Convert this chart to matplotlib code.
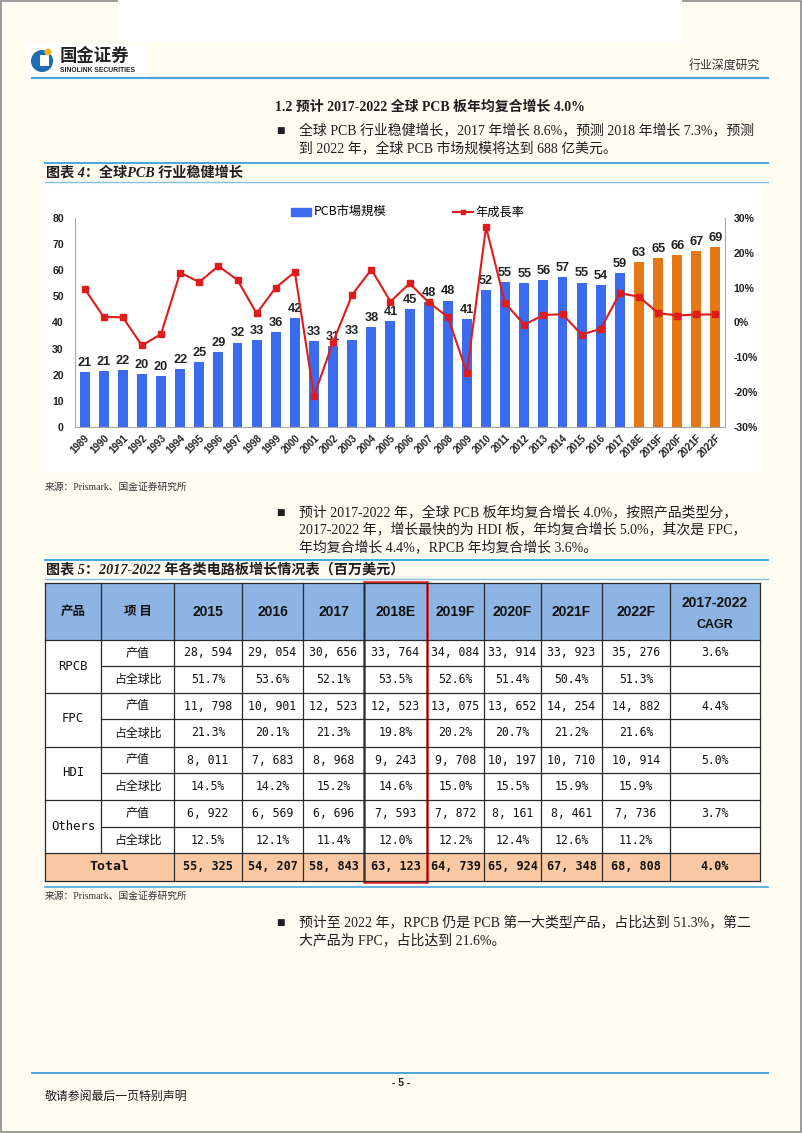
import matplotlib.pyplot as plt
import matplotlib.patches as mpatches
from matplotlib.lines import Line2D
from matplotlib.ticker import MultipleLocator, FuncFormatter

W, H = 802, 1133

# --- 图表4：全球PCB市场规模（十亿美元）与年增长率 ---
years = ['1989', '1990', '1991', '1992', '1993', '1994', '1995', '1996', '1997', '1998',
         '1999', '2000', '2001', '2002', '2003', '2004', '2005', '2006', '2007', '2008',
         '2009', '2010', '2011', '2012', '2013', '2014', '2015', '2016', '2017',
         '2018E', '2019F', '2020F', '2021F', '2022F']
market = [21.0, 21.4, 21.7, 20.4, 19.6, 22.2, 24.8, 28.8, 32.3, 33.2,
          36.2, 41.6, 32.8, 30.9, 33.2, 38.4, 40.7, 45.2, 47.7, 48.4,
          41.2, 52.4, 55.4, 55.1, 56.3, 57.4, 55.3, 54.2, 58.8,
          63.1, 64.7, 65.9, 67.3, 68.8]
growth = [9.7, 1.6, 1.5, -6.6, -3.3, 14.3, 11.6, 16.2, 12.2, 2.6,
          10.0, 14.5, -21.1, -5.6, 8.0, 15.2, 6.0, 11.2, 5.8, 1.6,
          -14.4, 27.4, 5.5, -0.6, 2.1, 2.4, -3.5, -1.8, 8.4,
          7.4, 2.7, 2.0, 2.3, 2.3]

# --- 图表5：各类电路板产值（百万美元）与占比 ---
tbl_years = ['2015', '2016', '2017', '2018E', '2019F', '2020F', '2021F', '2022F']
products = ['RPCB', 'FPC', 'HDI', 'Others']
rpcb_val = [28594, 29054, 30656, 33764, 34084, 33914, 33923, 35276]
rpcb_share = [51.7, 53.6, 52.1, 53.5, 52.6, 51.4, 50.4, 51.3]
fpc_val = [11798, 10901, 12523, 12523, 13075, 13652, 14254, 14882]
fpc_share = [21.3, 20.1, 21.3, 19.8, 20.2, 20.7, 21.2, 21.6]
hdi_val = [8011, 7683, 8968, 9243, 9708, 10197, 10710, 10914]
hdi_share = [14.5, 14.2, 15.2, 14.6, 15.0, 15.5, 15.9, 15.9]
oth_val = [6922, 6569, 6696, 7593, 7872, 8161, 8461, 7736]
oth_share = [12.5, 12.1, 11.4, 12.0, 12.2, 12.4, 12.6, 11.2]
total_val = [55325, 54207, 58843, 63123, 64739, 65924, 67348, 68808]
cagr = [3.6, 4.4, 5.0, 3.7]
cagr_total = 4.0

BG = '#FFFCF2'
LINE_BLUE = '#4AA6DC'
TXT = '#1E1E1E'
SERIF = ['Liberation Serif', 'Noto Sans CJK SC']
CJK = ['Noto Sans CJK SC', 'DejaVu Sans']
MONO = ['DejaVu Sans Mono', 'Noto Sans CJK SC']

fig = plt.figure(figsize=(W / 100, H / 100), dpi=100, facecolor=BG)
pg = fig.add_axes([0, 0, 1, 1], zorder=0)
pg.set_xlim(0, W)
pg.set_ylim(H, 0)
pg.axis('off')

# 页面边框与顶部白块
pg.add_patch(mpatches.Rectangle((0.5, 0.5), W - 1.5, H - 1.5, fill=False, ec='#8A8A8A', lw=1.2))
pg.add_patch(mpatches.Rectangle((118, 0), 564, 42, fc='white', ec='none'))

# --- 页眉 ---
pg.add_patch(mpatches.Rectangle((27, 44), 121, 33, fc='white', ec='none'))
pg.add_patch(mpatches.Circle((42, 61), 11, fc='#1B6DB4', ec='none'))
pg.add_patch(mpatches.Rectangle((40, 55), 9, 11, fc='white', ec='none'))
pg.add_patch(mpatches.Circle((48, 52), 3.5, fc='#F2B619', ec='none'))
pg.text(60, 56, '国金证券', fontsize=12.5, fontweight='bold', family=CJK, color='#222222', va='center')
pg.text(60, 70, 'SINOLINK SECURITIES', fontsize=4.9, fontweight='bold', family='Liberation Sans',
        color='#222222', va='center')
pg.text(760, 65, '行业深度研究', fontsize=8.6, family=CJK, color='#333333', ha='right', va='center')
pg.plot([32, 768], [78, 78], color=LINE_BLUE, lw=1.6)

# --- 正文 ---
pg.text(275, 107, '1.2 预计 2017-2022 全球 PCB 板年均复合增长 4.0%', fontsize=10, fontweight='bold',
        family=SERIF, color=TXT, va='center')


def bullet(y, lines, step=18, size=10):
    pg.text(276, y, '■', fontsize=6.5, family='DejaVu Sans', color=TXT, va='center')
    for i, ln in enumerate(lines):
        pg.text(299, y + i * step, ln, fontsize=size, family=SERIF, color=TXT, va='center')


bullet(130, ['全球 PCB 行业稳健增长，2017 年增长 8.6%，预测 2018 年增长 7.3%，预测',
             '到 2022 年，全球 PCB 市场规模将达到 688 亿美元。'])


def caption(y_top, text):
    pg.plot([45, 768], [y_top, y_top], color=LINE_BLUE, lw=1.4)
    pg.text(46, y_top + 9.5, text, fontsize=10.2, fontweight='bold', style='italic',
            family=SERIF, color=TXT, va='center')
    pg.plot([45, 768], [y_top + 19, y_top + 19], color=LINE_BLUE, lw=1.0, alpha=0.7)


caption(163, '图表 4：全球PCB 行业稳健增长')

# --- 图表4 ---
pg.add_patch(mpatches.Rectangle((45, 185), 718, 287, fc='white', ec='none'))
ax = fig.add_axes([75 / W, 1 - 427 / H, 650 / W, 209 / H], zorder=2)
ax.set_facecolor('none')
x = list(range(len(years)))
bar_colors = ['#E67716' if y[-1] in 'EF' else '#3B6CF0' for y in years]
ax.bar(x, market, width=0.52, color=bar_colors, zorder=2)
for xi, v in zip(x, market):
    ax.text(xi, v + 1.2, f'{v:.0f}', ha='center', va='bottom', fontsize=9.2,
            fontweight='bold', family='Liberation Sans', color='#222222', zorder=3)
ax.set_xlim(-0.5, len(years) - 0.5)
ax.set_ylim(0, 80)
ax.yaxis.set_major_locator(MultipleLocator(10))
ax.set_xticks(x)
ax.set_xticklabels(years, rotation=45, ha='right', va='top', rotation_mode='anchor')
for lab in ax.get_xticklabels() + ax.get_yticklabels():
    lab.set_fontweight('bold')
    lab.set_family('Liberation Sans')
ax.tick_params(axis='x', length=0, pad=4, labelsize=7, colors='#222222')
ax.tick_params(axis='y', length=0, pad=8, labelsize=7.6, colors='#222222')
for s in ['top', 'right']:
    ax.spines[s].set_visible(False)
for s in ['left', 'bottom']:
    ax.spines[s].set_color('#A8A8A8')
    ax.spines[s].set_linewidth(0.8)

ax2 = ax.twinx()
ax2.set_zorder(3)
ax2.plot(x, growth, color='#E01B1B', lw=1.5, marker='s', ms=4, zorder=4)
ax2.set_ylim(-30, 30)
ax2.yaxis.set_major_locator(MultipleLocator(10))
ax2.yaxis.set_major_formatter(FuncFormatter(lambda v, p: f'{v:.0f}%'))
for lab in ax2.get_yticklabels():
    lab.set_fontweight('bold')
    lab.set_family('Liberation Sans')
ax2.tick_params(axis='y', length=0, pad=6, labelsize=7.6, colors='#222222')
ax2.spines['top'].set_visible(False)
ax2.spines['left'].set_visible(False)
ax2.spines['bottom'].set_visible(False)
ax2.spines['right'].set_color('#A8A8A8')
ax2.spines['right'].set_linewidth(0.8)

handles = [mpatches.Patch(color='#3B6CF0', label='PCB市場規模'),
           Line2D([0], [0], color='#E01B1B', lw=1.5, marker='s', ms=3.5, label='年成長率')]
leg = ax2.legend(handles=handles, ncol=2, loc='center', bbox_to_anchor=(0.512, 1.026),
                 frameon=False, handlelength=1.6, handleheight=0.6, handletextpad=0.2,
                 columnspacing=5.5, prop={'family': ['Noto Sans CJK TC', 'DejaVu Sans'], 'size': 8.8})

pg.text(45, 487, '来源：Prismark、国金证券研究所', fontsize=7, family=SERIF, color='#333333', va='center')

bullet(512, ['预计 2017-2022 年，全球 PCB 板年均复合增长 4.0%，按照产品类型分，',
             '2017-2022 年，增长最快的为 HDI 板，年均复合增长 5.0%，其次是 FPC，',
             '年均复合增长 4.4%，RPCB 年均复合增长 3.6%。'], step=17.5)

caption(560, '图表 5：2017-2022 年各类电路板增长情况表（百万美元）')

# --- 图表5 表格 ---
col_x = [45, 101, 174, 242, 303, 364, 427, 484, 541, 602, 670, 760]
row_y = [583, 640, 666, 693, 719, 747, 773, 800, 827, 853, 881]
pg.add_patch(mpatches.Rectangle((col_x[0], row_y[0]), col_x[-1] - col_x[0], row_y[1] - row_y[0],
                                fc='#8DB4E2', ec='none'))
pg.add_patch(mpatches.Rectangle((col_x[0], row_y[1]), col_x[-1] - col_x[0], row_y[9] - row_y[1],
                                fc='white', ec='none'))
pg.add_patch(mpatches.Rectangle((col_x[0], row_y[9]), col_x[-1] - col_x[0], row_y[10] - row_y[9],
                                fc='#FAC9A3', ec='none'))

GRID = '#2A2A2A'
for i, yy in enumerate(row_y):
    x0 = col_x[0] if i in (0, 1, 3, 5, 7, 9, 10) else col_x[1]
    pg.plot([x0, col_x[-1]], [yy, yy], color=GRID, lw=0.9)
for j, xx in enumerate(col_x):
    y1 = row_y[9] if j == 1 else row_y[-1]
    pg.plot([xx, xx], [row_y[0], y1], color=GRID, lw=0.9)


def cx(j):
    return (col_x[j] + col_x[j + 1]) / 2


def cy(i):
    return (row_y[i] + row_y[i + 1]) / 2


def fmt_num(v):
    return f'{v:,}'.replace(',', ', ')


pg.text(cx(0), cy(0), '产品', fontsize=9, fontweight='bold', family=CJK, color='#111111', ha='center', va='center')
pg.text(cx(1), cy(0), '项 目', fontsize=9, fontweight='bold', family=CJK, color='#111111', ha='center', va='center')
for j, yr in enumerate(tbl_years):
    pg.text(cx(j + 2), cy(0), yr, fontsize=10, fontweight='bold', family='Liberation Sans',
            color='#111111', ha='center', va='center')
pg.text(cx(10), 603, '2017-2022', fontsize=10, fontweight='bold', family='Liberation Sans',
        color='#111111', ha='center', va='center')
pg.text(cx(10), 625, 'CAGR', fontsize=9, fontweight='bold', family='Liberation Sans',
        color='#111111', ha='center', va='center')

vals = [rpcb_val, fpc_val, hdi_val, oth_val]
shares = [rpcb_share, fpc_share, hdi_share, oth_share]
for k, name in enumerate(products):
    r = 1 + 2 * k
    pg.text(cx(0), row_y[r + 1], name, fontsize=8.8, family=MONO, color='#111111', ha='center', va='center')
    pg.text(cx(1), cy(r), '产值', fontsize=8.6, family=CJK, color='#111111', ha='center', va='center')
    pg.text(cx(1), cy(r + 1), '占全球比', fontsize=8.6, family=CJK, color='#111111', ha='center', va='center')
    for j in range(len(tbl_years)):
        pg.text(cx(j + 2), cy(r), fmt_num(vals[k][j]), fontsize=8.3, family=MONO,
                color='#111111', ha='center', va='center')
        pg.text(cx(j + 2), cy(r + 1), f'{shares[k][j]:.1f}%', fontsize=8.3, family=MONO,
                color='#111111', ha='center', va='center')
    pg.text(cx(10), cy(r), f'{cagr[k]:.1f}%', fontsize=8.3, family=MONO,
            color='#111111', ha='center', va='center')

pg.text((col_x[0] + col_x[2]) / 2, cy(9), 'Total', fontsize=9.5, fontweight='bold', family=MONO,
        color='#111111', ha='center', va='center')
for j in range(len(tbl_years)):
    pg.text(cx(j + 2), cy(9), fmt_num(total_val[j]), fontsize=8.5, fontweight='bold', family=MONO,
            color='#111111', ha='center', va='center')
pg.text(cx(10), cy(9), f'{cagr_total:.1f}%', fontsize=8.5, fontweight='bold', family=MONO,
        color='#111111', ha='center', va='center')

# 2018E 红框
pg.add_patch(mpatches.Rectangle((col_x[5], row_y[0] - 1), col_x[6] - col_x[5], row_y[-1] - row_y[0] + 2,
                                fill=False, ec='#E02020', lw=1.8))

pg.plot([45, 768], [887, 887], color=LINE_BLUE, lw=1.2)
pg.text(45, 896, '来源：Prismark、国金证券研究所', fontsize=7, family=SERIF, color='#333333', va='center')

bullet(922, ['预计至 2022 年，RPCB 仍是 PCB 第一大类型产品，占比达到 51.3%，第二',
             '大产品为 FPC，占比达到 21.6%。'])

# --- 页脚 ---
pg.plot([32, 768], [1073, 1073], color=LINE_BLUE, lw=1.4)
pg.text(401, 1083, '- 5 -', fontsize=7.5, fontweight='bold', family='Liberation Sans', color=TXT,
        ha='center', va='center')
pg.text(45, 1097, '敬请参阅最后一页特别声明', fontsize=8.6, family=SERIF, color=TXT, va='center')

fig.savefig('out.png', dpi=100, facecolor=BG)
